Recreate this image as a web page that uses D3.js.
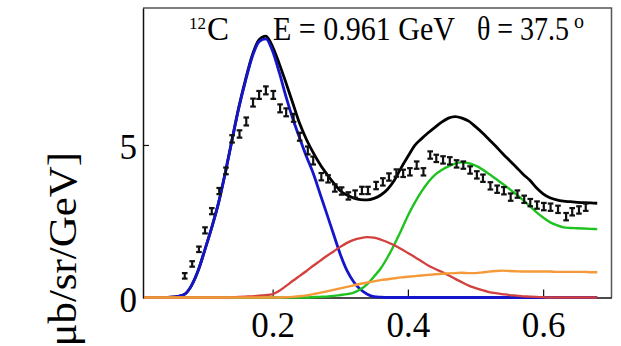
<!DOCTYPE html>
<html>
<head>
<meta charset="utf-8">
<script src="https://cdn.jsdelivr.net/npm/d3@7"></script>
<style>
  html, body { margin: 0; padding: 0; background: #fff; }
  svg { display: block; }
  text { font-family: "Liberation Serif", "DejaVu Serif", serif; fill: #000; }
</style>
</head>
<body>
<svg id="chart" width="621" height="346"></svg>
<script>
// Energy transfer grid of the model curves [GeV]
const curveX = [0.01,0.02,0.03,0.04,0.05,0.06,0.07,0.08,0.09,0.10,0.11,0.12,0.13,0.14,0.15,0.16,0.17,
  0.18,0.19,0.20,0.21,0.22,0.23,0.24,0.25,0.26,0.27,0.28,0.29,0.30,0.31,0.32,0.33,0.34,0.35,0.36,0.37,
  0.38,0.39,0.40,0.41,0.42,0.43,0.44,0.45,0.46,0.47,0.48,0.49,0.50,0.51,0.52,0.53,0.54,0.55,0.56,0.57,
  0.58,0.59,0.60,0.61,0.62,0.63,0.64,0.65,0.66,0.67,0.68];

// Total model
const totalCurve = [0,0,0,0,0.01,0.04,0.11,0.39,0.89,1.58,2.30,3.10,4.10,5.18,6.24,7.15,7.95,
  8.45,8.57,8.22,7.65,7.02,6.36,5.70,5.18,4.75,4.37,4.05,3.76,3.50,3.36,3.26,3.21,3.20,3.25,3.36,3.55,
  3.84,4.25,4.62,4.98,5.20,5.40,5.58,5.75,5.88,5.93,5.88,5.78,5.60,5.40,5.18,4.96,4.72,4.50,4.28,4.05,
  3.85,3.60,3.40,3.27,3.20,3.16,3.14,3.12,3.11,3.10,3.09];

// Quasi-elastic peak
const qeCurve = [0,0,0,0,0.01,0.04,0.11,0.39,0.89,1.58,2.30,3.10,4.08,5.16,6.21,7.11,7.90,
  8.39,8.48,8.07,7.36,6.57,5.85,5.22,4.62,4.07,3.41,2.75,2.08,1.42,0.88,0.51,0.26,0.11,0.03,0.01,0,
  0,0,0,0,0,0,0,0,0,0,0,0,0,0,0,0,0,0,0,0,
  0,0,0,0,0,0,0,0,0,0,0];

// Two-nucleon contribution
const mecCurve = [0,0,0,0,0,0,0,0,0,0,0,0,0,0.01,0.02,0.03,0.04,
  0.06,0.08,0.11,0.22,0.38,0.55,0.71,0.87,1.04,1.20,1.36,1.51,1.66,1.79,1.89,1.95,1.98,1.96,1.90,1.81,
  1.71,1.59,1.46,1.33,1.19,1.05,0.94,0.84,0.73,0.61,0.50,0.39,0.31,0.24,0.18,0.14,0.11,0.08,0.06,0.04,
  0.03,0.02,0.01,0,0,0,0,0,0,0,0];

// Delta resonance
const deltaCurve = [0,0,0,0,0,0,0,0,0,0,0,0,0,0,0,0,0,
  0,0,0,0,0,0,0,0,0.01,0.02,0.03,0.05,0.08,0.11,0.16,0.27,0.44,0.69,0.96,1.32,
  1.74,2.20,2.68,3.10,3.47,3.78,4.02,4.18,4.30,4.39,4.43,4.40,4.32,4.20,4.05,3.89,3.73,3.56,3.38,3.20,
  3.00,2.80,2.62,2.47,2.37,2.30,2.28,2.27,2.26,2.25,2.24];

// Higher resonances / DIS
const disCurve = [0,0,0,0,0,0,0,0,0,0,0,0,0,0,0,0,0,
  0,0,0,0,0.01,0.02,0.04,0.07,0.11,0.15,0.20,0.25,0.30,0.35,0.40,0.45,0.49,0.53,0.57,0.60,
  0.63,0.66,0.68,0.70,0.72,0.74,0.76,0.78,0.79,0.80,0.81,0.80,0.80,0.82,0.85,0.87,0.88,0.87,0.86,0.85,
  0.85,0.85,0.85,0.85,0.84,0.84,0.84,0.84,0.84,0.83,0.83];

// Measured cross section
const dataX = [0.070,0.081,0.091,0.100,0.110,0.121,0.131,0.140,0.151,0.161,0.171,0.180,0.190,0.201,
  0.211,0.220,0.231,0.240,0.252,0.260,0.272,0.282,0.292,0.302,0.312,0.322,0.332,0.341,0.353,0.363,
  0.372,0.383,0.393,0.403,0.413,0.423,0.433,0.442,0.452,0.462,0.472,0.482,0.492,0.502,0.511,0.522,
  0.532,0.542,0.552,0.562,0.572,0.581,0.591,0.601,0.611,0.622,0.634,0.643,0.653,0.663];
const dataY = [0.71,1.10,1.58,2.20,2.83,3.49,4.15,5.20,5.36,5.77,6.39,6.64,6.79,6.64,
  6.20,6.07,5.89,5.27,4.82,4.49,3.96,3.89,3.59,3.49,3.33,3.39,3.51,3.51,3.67,3.79,
  3.95,4.08,4.07,4.12,4.34,4.12,4.67,4.56,4.51,4.48,4.38,4.34,4.18,4.02,3.91,3.66,
  3.55,3.50,3.29,3.39,3.22,3.11,3.03,2.98,2.96,2.89,2.65,2.81,2.87,2.96];
const dataErr = [0.09,0.09,0.09,0.10,0.10,0.10,0.11,0.12,0.12,0.13,0.13,0.13,0.13,0.13,
  0.13,0.13,0.13,0.13,0.13,0.13,0.12,0.12,0.12,0.12,0.12,0.12,0.12,0.12,0.12,0.12,
  0.12,0.12,0.12,0.12,0.12,0.12,0.12,0.12,0.12,0.12,0.12,0.12,0.12,0.12,0.12,0.12,
  0.12,0.12,0.12,0.12,0.12,0.12,0.12,0.12,0.12,0.12,0.12,0.12,0.12,0.12];

const xTicks = [0.2, 0.4, 0.6];
const yTicks = [0, 5];

const svg = d3.select("#chart");
const plot = { left: 143, right: 611.5, top: 8, bottom: 297.5 };

const x = d3.scaleLinear().domain([0.0083, 0.7011]).range([plot.left, plot.right]);
const y = d3.scaleLinear().domain([0, 9.49]).range([plot.bottom, plot.top]);

// frame: top and right edges
svg.append("path")
  .attr("d", `M${plot.left},${plot.top}H${plot.right}V${plot.bottom}`)
  .attr("fill", "none").attr("stroke", "#555").attr("stroke-width", 1.5);

// axes
const xAxis = svg.append("g")
  .attr("transform", `translate(0,${plot.bottom})`)
  .call(d3.axisBottom(x).tickValues(xTicks).tickSize(-8).tickSizeOuter(0)
    .tickFormat(d3.format(".1f")));
const yAxis = svg.append("g")
  .attr("transform", `translate(${plot.left},0)`)
  .call(d3.axisLeft(y).tickValues(yTicks).tickSize(-6).tickSizeOuter(0)
    .tickFormat(d3.format("d")));

[xAxis, yAxis].forEach(g => {
  g.select(".domain").attr("stroke", "#111").attr("stroke-width", 1.5);
  g.selectAll(".tick line").attr("stroke", "#111").attr("stroke-width", 1.2);
  g.selectAll("text").attr("font-family", "Liberation Serif").attr("font-size", 35).attr("fill", "#000");
});
xAxis.selectAll("text").attr("y", 39.5).attr("dy", 0);
yAxis.selectAll("text").attr("x", -6).attr("dy", "0.39em");

// model curves
const line = vals => d3.line()
  .x((d, i) => x(curveX[i]))
  .y(d => y(d))
  .curve(d3.curveMonotoneX)(vals);

const curves = [
  { vals: totalCurve, color: "#000000", width: 2.8 },
  { vals: qeCurve,    color: "#1515cc", width: 2.8 },
  { vals: deltaCurve, color: "#1fc21f", width: 2.4 },
  { vals: mecCurve,   color: "#d2413d", width: 2.3 },
  { vals: disCurve,   color: "#f59a3a", width: 2.4 }
];
svg.append("g").selectAll("path").data(curves).join("path")
  .attr("d", c => line(c.vals))
  .attr("fill", "none")
  .attr("stroke", c => c.color)
  .attr("stroke-width", c => c.width)
  .attr("stroke-linejoin", "round");

// data points with error bars
const pts = svg.append("g").attr("stroke", "#111").attr("stroke-width", 2.2);
dataX.forEach((xv, i) => {
  const px = x(xv), y0 = y(dataY[i] - dataErr[i]), y1 = y(dataY[i] + dataErr[i]);
  pts.append("line").attr("x1", px).attr("x2", px).attr("y1", y0).attr("y2", y1);
  pts.append("line").attr("x1", px - 2.8).attr("x2", px + 2.8).attr("y1", y0).attr("y2", y0);
  pts.append("line").attr("x1", px - 2.8).attr("x2", px + 2.8).attr("y1", y1).attr("y2", y1);
});

// header: nucleus, beam energy, scattering angle
const head = svg.append("g").attr("font-size", 33);
const nucleus = head.append("text").attr("x", 189).attr("y", 40);
nucleus.append("tspan").attr("font-size", 17).attr("dy", -11).text("12");
nucleus.append("tspan").attr("x", 207).attr("dy", 11).text("C");

head.append("text").attr("x", 273).attr("y", 40)
  .attr("textLength", 182).attr("lengthAdjust", "spacingAndGlyphs").text("E = 0.961 GeV");

const angle = head.append("text").attr("x", 477).attr("y", 40);
angle.append("tspan").attr("textLength", 92).attr("lengthAdjust", "spacingAndGlyphs").text("θ = 37.5");
angle.append("tspan").attr("x", 574).attr("dy", -12).attr("font-size", 20).text("o");

// y-axis unit label
svg.append("text")
  .attr("transform", "translate(76,152) rotate(-90) scale(1.1,1)")
  .attr("text-anchor", "end")
  .attr("font-size", 39)
  .text("[μb/sr/GeV]");
</script>
</body>
</html>
